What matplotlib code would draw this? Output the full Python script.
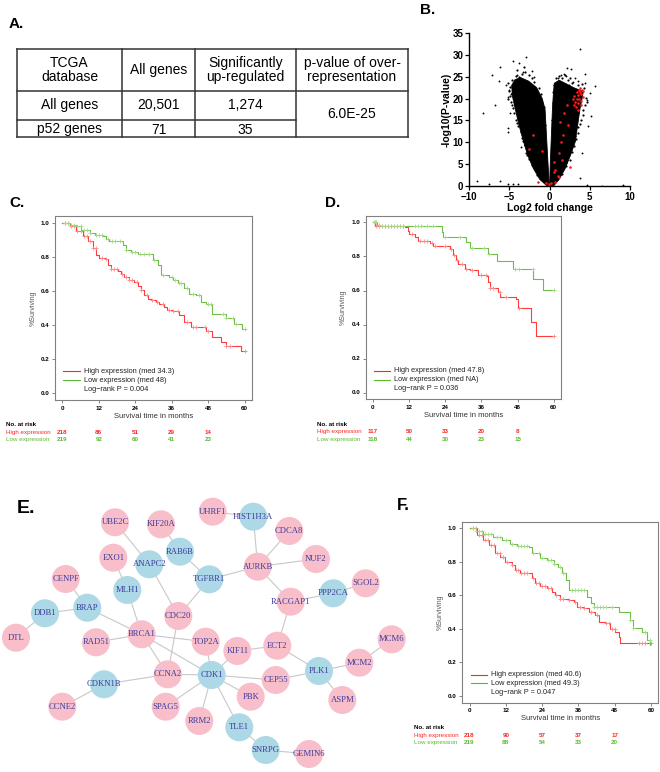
import numpy as np
import matplotlib
matplotlib.use('Agg')
import matplotlib.pyplot as plt
from matplotlib.patches import Circle, Polygon
from matplotlib import transforms as mtrans

plt.rcParams['font.family'] = ['Liberation Sans', 'DejaVu Sans']

W, H = 660, 772

# ---------------- Panel A: table ----------------
table_header = ["TCGA\ndatabase", "All genes", "Significantly\nup-regulated", "p-value of over-\nrepresentation"]
table_row1 = ["All genes", "20,501", "1,274"]
table_row2 = ["p52 genes", "71", "35"]
table_pvalue = "6.0E-25"

# ---------------- Panel B: volcano ----------------
volc_left_x = [-0.3, -1.2, -2.0, -2.7, -3.2, -3.8, -4.3, -4.6, -4.7, -4.3, -3.6, -2.6, -1.6, -0.9, -0.55, -0.33, -0.15, -0.05]
volc_left_y = [0, 1.5, 4, 7, 10, 14, 18, 20.5, 23, 24.3, 24.8, 24.0, 22.5, 20, 17.5, 10, 4, 0]
volc_right_x = [0.0, 0.08, 0.2, 0.37, 0.5, 0.6, 1.2, 1.95, 3.0, 4.2, 4.0, 3.8, 3.2, 2.6, 1.95, 1.2, 0.5]
volc_right_y = [0, 4, 10, 17.8, 21.6, 23.5, 24.2, 23.5, 22.5, 21.6, 19.5, 17.8, 10.1, 7, 4, 1.5, 0]
volc_out_x = [3.73, -2.9, -4.55, -3.85, -6.1, -7.1, -6.3, -5.4, -5.1, -4.9, -6.8, -8.3, -5.2, -5.1, -3.6,
              2.15, 2.7, 1.8, 4.35, 3.2, 5.6, 4.97, 4.64, 5.2, 4.76, 4.0, 3.8, -9.0, -7.5, -6.2, -5.1,
              -4.5, -3.9, 4.6, 6.5, 9.1, -3.3, -4.0, -5.0, -2.2, -1.9, 1.0, 1.4, 2.4, 2.9, 3.5, 4.4, -4.8, -3.5, 2.0]
volc_out_y = [31.3, 29.4, 28.6, 28.1, 27.3, 25.4, 24, 23, 20.4, 16.6, 18.5, 16.8, 13.2, 12.3, 9,
              26.9, 26.7, 25.6, 25.6, 24.6, 22.9, 21.2, 19.7, 16.1, 13.7, 7.5, 1.75, 1.1, 0.45, 1.1, 0.4,
              0.45, 0.4, 0.2, 0.1, 0.2, 26.0, 25.5, 22.0, 26.2, 25.0, 24.8, 25.5, 23.2, 23.8, 24.0, 23.5, 21.0, 19.5, 25.1]
volc_edge_x = [-1.5, -2.2, -2.5, -2.9, -3.1, -3.4, -3.6, -3.9, -4.1, -4.4, -4.5, -4.8, -4.9, -5.0, -4.9, -5.1,
               -4.6, -4.2, -3.8, -3.4, -3.0, -2.6, -2.2, -1.9, -3.2, -4.0, -2.8, -3.3, -4.0, -4.6, -5.2, -4.7,
               1.6, 2.1, 2.5, 2.8, 3.0, 3.3, 3.5, 3.6, 3.9, 4.1, 4.2, 4.4, 4.5, 4.3, 4.0, 3.5, 2.8, 2.3,
               1.6, 1.2, 0.8, 0.5, 2.0, 3.2, 3.8, 4.6, 1.9, 2.6,
               -0.5, -0.7, -1.0, -1.3, 0.3, 0.4, 0.45]
volc_edge_y = [2.5, 4.8, 6.2, 7.5, 9.3, 11, 12.4, 13.8, 15.2, 16.8, 17.9, 19.2, 20.5, 21.8, 22.6, 23.5,
               24.2, 25.2, 24.9, 25.6, 26.1, 25.3, 24.6, 23.9, 27.2, 26.5, 7.0, 10.2, 14.5, 18.5, 19.8, 21.2,
               2.8, 4.5, 6.0, 7.8, 9.2, 10.8, 12.1, 13.5, 15.0, 16.2, 17.5, 18.6, 20.2, 22.5, 23.3, 23.0, 23.6, 24.2,
               24.8, 25.2, 24.6, 23.0, 5.5, 11.5, 14.2, 19.3, 25.3, 24.8,
               14, 18, 21, 22.5, 15, 19, 21.5]
volc_red_x = [3.0, 3.2, 3.4, 3.6, 3.8, 4.0, 3.9, 3.7, 3.5, 3.3, 3.9, 4.1, 3.6, 3.1, 2.9, 3.8, 4.2, 3.4, 3.7, 3.95,
              -2.07, -2.6, -0.87, -1.45, -0.4, -0.1, 0.2, 0.5, 0.7, 0.62, 1.24, 1.53, 1.45, 1.66, 1.33, 1.74,
              2.36, 2.15, 1.24, 2.57, 0.7, 1.03]
volc_red_y = [18.5, 19.3, 20.0, 20.8, 21.5, 22.0, 21.0, 19.8, 18.9, 18.0, 18.5, 20.3, 17.5, 20.5, 19.8, 22.4, 21.7, 21.5, 21.9, 19.5,
              11.7, 8.5, 8.0, 1.0, 0.8, 0.4, 0.6, 3.3, 3.7, 5.4, 7.5, 6.0, 10.1, 11.7, 14.7, 16.6,
              14.0, 18.5, 2.1, 4.4, 1.0, 2.4]

# ---------------- Panels C, D, F: Kaplan-Meier ----------------
km_ticks_x = [0, 12, 24, 36, 48, 60]
km_ticks_y = [0.0, 0.2, 0.4, 0.6, 0.8, 1.0]
risk_times = [0, 12, 24, 36, 48]

C_hi_t = [0, 2.4, 4.6, 6.8, 8.4, 10, 11.1, 12.2, 14.2, 15, 16, 18.3, 19.3, 20.4, 22, 23.7, 24.8, 25.9, 27, 28.1, 29.2, 30.8, 31.9, 33.6, 34.6, 36.3, 38.5, 40.1, 42.3, 47.4, 49.1, 52.1, 53.8, 58.7, 60.3]
C_hi_s = [1.0, 0.982, 0.951, 0.925, 0.892, 0.852, 0.813, 0.793, 0.787, 0.754, 0.730, 0.720, 0.700, 0.681, 0.665, 0.650, 0.630, 0.606, 0.577, 0.553, 0.547, 0.537, 0.522, 0.504, 0.488, 0.482, 0.459, 0.419, 0.386, 0.366, 0.331, 0.301, 0.276, 0.245, 0.245]
C_hi_c = [1, 2, 3, 4, 5, 6, 7, 8, 9, 10, 11, 13, 14.5, 16, 17, 18, 19.5, 21, 22, 23, 24.5, 26, 28, 29.5, 31, 33, 35, 36.5, 38, 41, 43, 44, 47, 48, 54, 55, 60]
C_lo_t = [0, 2.5, 4.6, 6.2, 9, 10.6, 13.3, 14.4, 15.5, 19.9, 21, 22.6, 24.8, 29.7, 31.4, 32.5, 35.2, 36.3, 37.9, 40.1, 41.7, 43.9, 45.6, 47.2, 49.4, 53.8, 56.6, 59.2, 60.3]
C_lo_s = [1.0, 0.99, 0.98, 0.957, 0.941, 0.927, 0.921, 0.906, 0.892, 0.872, 0.843, 0.827, 0.819, 0.783, 0.754, 0.695, 0.681, 0.665, 0.646, 0.616, 0.583, 0.577, 0.537, 0.522, 0.465, 0.439, 0.406, 0.374, 0.374]
C_lo_c = [1, 2, 3, 4, 5, 6, 7, 8, 9, 11, 12, 13, 15, 16.5, 17.5, 19, 21, 23, 24, 25.5, 27, 28.5, 30, 33, 36, 37, 38.5, 39, 41, 43, 45, 48, 49, 53, 54, 56, 57, 60]
C_risk_hi = [218, 86, 51, 29, 14]
C_risk_lo = [219, 92, 60, 41, 23]
C_legend = ["High expression (med 34.3)", "Low expression (med 48)", "Log\u2212rank P = 0.004"]

D_hi_t = [0, 0.8, 10.7, 11.5, 12, 14, 15, 19, 20, 25.5, 26.4, 27.5, 28.3, 30.5, 32.1, 34.9, 37.7, 38.2, 39, 41.5, 42.3, 47.6, 48.1, 52.5, 54.2, 60]
D_hi_s = [1.0, 0.98, 0.974, 0.951, 0.935, 0.915, 0.891, 0.879, 0.862, 0.842, 0.806, 0.777, 0.753, 0.727, 0.721, 0.692, 0.684, 0.648, 0.613, 0.589, 0.559, 0.549, 0.50, 0.415, 0.332, 0.332]
D_hi_c = [0.5, 1, 2, 3, 4, 5, 6, 7, 8, 9, 10, 13, 15.5, 17, 18, 19.5, 20.5, 24, 26, 27, 28, 29.5, 31, 33, 36, 37.5, 39, 40, 42, 44, 48.5, 60]
D_lo_t = [0, 1.3, 2.4, 21.1, 22.8, 23.3, 31, 32.1, 38.2, 41, 46.5, 53.1, 56.4, 60]
D_lo_s = [1.0, 0.988, 0.978, 0.978, 0.945, 0.915, 0.885, 0.850, 0.816, 0.771, 0.727, 0.668, 0.603, 0.603]
D_lo_c = [0.3, 0.7, 1, 2, 3, 4, 5, 6, 7, 8, 9, 10, 14, 15, 16, 18, 20, 24, 29, 33, 37, 38.5, 47, 48.5, 53, 60]
D_risk_hi = [117, 50, 33, 20, 8]
D_risk_lo = [118, 44, 30, 23, 15]
D_legend = ["High expression (med 47.8)", "Low expression (med NA)", "Log\u2212rank P = 0.036"]

F_hi_t = [0, 2.4, 4.6, 6.3, 8.5, 10.1, 11.8, 14, 15.1, 16.8, 19, 20.6, 21.7, 23.4, 25.6, 27.2, 28.4, 30, 32.8, 34.4, 35.5, 37.7, 39.4, 41.6, 42.7, 44.9, 46.5, 48.2, 49.3, 49.6, 60]
F_hi_s = [1.0, 0.96, 0.93, 0.90, 0.851, 0.831, 0.801, 0.781, 0.751, 0.736, 0.732, 0.702, 0.672, 0.656, 0.642, 0.622, 0.602, 0.577, 0.573, 0.563, 0.529, 0.523, 0.503, 0.483, 0.443, 0.433, 0.400, 0.384, 0.354, 0.314, 0.314]
F_hi_c = [1, 2, 3, 4, 5, 6, 7, 8, 9, 10, 11, 12.5, 14, 15.5, 16, 17, 18, 19, 21, 22, 23, 24, 25, 26, 27, 28.5, 30, 31, 33, 35, 36.5, 38, 40, 42, 45, 46, 47, 48, 56, 57, 58, 60]
F_lo_t = [0, 2.0, 4.6, 7.9, 10.7, 13.5, 15.7, 19.5, 20.6, 23.4, 25.6, 27.8, 29.4, 30.5, 32, 32.8, 38.9, 40, 41, 49.3, 52.9, 54, 57, 58.7, 59.8]
F_lo_s = [1.0, 0.985, 0.966, 0.95, 0.93, 0.907, 0.895, 0.887, 0.851, 0.821, 0.811, 0.787, 0.771, 0.732, 0.692, 0.632, 0.592, 0.553, 0.529, 0.503, 0.453, 0.404, 0.384, 0.334, 0.304]
F_lo_c = [1, 2, 3, 4, 5, 6, 7, 9, 10, 12, 14, 16, 17, 18, 19, 21, 23, 24, 26, 27, 28, 30, 31, 34, 35, 36, 37, 38, 41, 42, 43, 44, 45, 47, 53, 54, 58, 59.5]
F_risk_hi = [218, 90, 57, 37, 17]
F_risk_lo = [219, 88, 54, 33, 20]
F_legend = ["High expression (med 40.6)", "Low expression (med 49.3)", "Log\u2212rank P = 0.047"]

# ---------------- Panel E: network ----------------
node_names = ["UHRF1", "HIST1H3A", "UBE2C", "KIF20A", "CDCA8", "RAB6B", "EXO1", "ANAPC2", "AURKB", "NUF2",
              "TGFBR1", "CENPF", "SGOL2", "MLH1", "PPP2CA", "BRAP", "RACGAP1", "DDB1", "CDC20", "DTL",
              "RAD51", "BRCA1", "TOP2A", "ECT2", "MCM6", "KIF11", "CCNA2", "CDK1", "MCM2", "PLK1",
              "CEP55", "CDKN1B", "PBK", "ASPM", "CCNE2", "SPAG5", "RRM2", "TLE1", "SNRPG", "GEMIN6"]
node_x = [212.7, 253.3, 115, 161, 289.3, 180, 113.3, 149.3, 257.7, 316,
          209.3, 65.7, 365.7, 127.3, 333.3, 87.3, 290.7, 45, 178.3, 16,
          96, 141.7, 205.7, 277.3, 391.7, 237.3, 167.7, 211.7, 359.3, 319,
          275.7, 104, 250.7, 342.3, 62.3, 165.7, 199.3, 239.3, 265.7, 309]
node_y = [511.7, 516.7, 522.3, 524.3, 531, 551.7, 557.7, 564.3, 566.7, 559,
          579.3, 579, 583.3, 590, 593.3, 607.7, 601.7, 613.3, 616, 637.7,
          642.3, 634.3, 641.7, 645.7, 639.3, 651, 674.3, 675, 662.7, 671,
          680, 684.3, 696.7, 700, 706.7, 706.7, 721, 727.3, 750, 754]
blue_nodes = ["HIST1H3A", "RAB6B", "ANAPC2", "TGFBR1", "MLH1", "PPP2CA", "BRAP", "DDB1", "CDK1", "PLK1",
              "CDKN1B", "TLE1", "SNRPG"]
edges = [("UHRF1", "HIST1H3A"), ("HIST1H3A", "AURKB"), ("CDCA8", "AURKB"), ("NUF2", "AURKB"),
         ("AURKB", "TGFBR1"), ("AURKB", "RACGAP1"), ("RACGAP1", "ECT2"), ("PPP2CA", "SGOL2"),
         ("PPP2CA", "RACGAP1"), ("KIF20A", "RAB6B"), ("RAB6B", "TGFBR1"), ("TGFBR1", "CDC20"),
         ("UBE2C", "ANAPC2"), ("ANAPC2", "CDC20"), ("EXO1", "MLH1"), ("MLH1", "BRCA1"),
         ("CENPF", "BRAP"), ("BRAP", "DDB1"), ("DDB1", "DTL"), ("BRAP", "BRCA1"), ("RAD51", "BRCA1"),
         ("BRCA1", "TOP2A"), ("BRCA1", "CCNA2"), ("BRCA1", "CDK1"), ("CDC20", "CCNA2"),
         ("TOP2A", "CDK1"), ("KIF11", "CDK1"), ("KIF11", "ECT2"), ("ECT2", "PLK1"), ("CDK1", "CCNA2"),
         ("CDK1", "CEP55"), ("CEP55", "PLK1"), ("PLK1", "MCM2"), ("MCM2", "MCM6"), ("PLK1", "ASPM"),
         ("CDK1", "PBK"), ("CDK1", "SPAG5"), ("CDK1", "RRM2"), ("CDK1", "TLE1"), ("TLE1", "SNRPG"),
         ("SNRPG", "GEMIN6"), ("CCNA2", "CDKN1B"), ("CDKN1B", "CCNE2")]

RED = '#FF2525'
RED_L = '#FF8C8C'
GREEN = '#5CB82E'
GREEN_L = '#A6D98A'


def rect(l, t, r, b):
    return [l / W, 1 - b / H, (r - l) / W, (b - t) / H]


fig = plt.figure(figsize=(W / 100, H / 100), dpi=100)

# overlay axes in pixel coordinates (table + network + letters)
ov = fig.add_axes([0, 0, 1, 1])
ov.set_xlim(0, W)
ov.set_ylim(H, 0)
ov.axis('off')

# panel letters
for lab, x, y, fs in [("A.", 9, 27.5, 11), ("B.", 420, 13.5, 11), ("C.", 9, 207, 11), ("D.", 325, 207, 11),
                      ("E.", 17, 513, 14), ("F.", 397, 510, 12)]:
    ov.text(x, y, lab, fontsize=fs, fontweight='bold', ha='left', va='baseline')

# ---- table ----
col_edges = [17, 122, 195, 296, 408]
row_edges = [49, 91, 120, 137]
lc = '#333333'
tlw = 1.1
ov.plot([col_edges[0], col_edges[-1]], [row_edges[0]] * 2, color=lc, lw=tlw)
ov.plot([col_edges[0], col_edges[-1]], [row_edges[1]] * 2, color=lc, lw=tlw)
ov.plot([col_edges[0], col_edges[3]], [row_edges[2]] * 2, color=lc, lw=tlw)
ov.plot([col_edges[0], col_edges[-1]], [row_edges[3]] * 2, color=lc, lw=tlw)
for cx in col_edges:
    ov.plot([cx, cx], [row_edges[0], row_edges[-1]], color=lc, lw=tlw)
ccent = [(col_edges[i] + col_edges[i + 1]) / 2 for i in range(4)]
for i, txt in enumerate(table_header):
    ov.text(ccent[i], 70, txt, ha='center', va='center', fontsize=10, linespacing=1.05)
for i, txt in enumerate(table_row1):
    ov.text(ccent[i], 105, txt, ha='center', va='center', fontsize=10)
for i, txt in enumerate(table_row2):
    ov.text(ccent[i], 129.5, txt, ha='center', va='center', fontsize=10)
ov.text(ccent[3], 113.5, table_pvalue, ha='center', va='center', fontsize=10)

# ---- network ----
pos = {n: (x, y) for n, x, y in zip(node_names, node_x, node_y)}
for a, b in edges:
    ov.plot([pos[a][0], pos[b][0]], [pos[a][1], pos[b][1]], color='#C8C8C8', lw=0.8, zorder=1)
for n in node_names:
    col = '#ADD8E6' if n in blue_nodes else '#F8BFCB'
    ov.add_patch(Circle(pos[n], 14, facecolor=col, edgecolor='none', zorder=2))
    ov.text(pos[n][0], pos[n][1], n, ha='center', va='center', fontsize=6.2, color='#3C3C9C',
            family=['Liberation Serif', 'DejaVu Serif'], zorder=3)

# ---- volcano ----
axv = fig.add_axes(rect(469, 33, 630, 186))
axv.add_patch(Polygon(np.column_stack([volc_left_x, volc_left_y]), closed=True, facecolor='black',
                      edgecolor='black', lw=0.6))
axv.add_patch(Polygon(np.column_stack([volc_right_x, volc_right_y]), closed=True, facecolor='black',
                      edgecolor='black', lw=0.6))
axv.scatter(volc_edge_x, volc_edge_y, s=2.5, color='black', lw=0)
axv.scatter(volc_out_x, volc_out_y, s=1.8, color='black', lw=0)
axv.scatter(volc_red_x, volc_red_y, s=3.5, color='#FF1A1A', lw=0, zorder=3)
axv.set_xlim(-10, 10)
axv.set_ylim(0, 35)
axv.set_xticks([-10, -5, 0, 5, 10])
axv.set_yticks(range(0, 36, 5))
axv.spines['top'].set_visible(False)
axv.spines['right'].set_visible(False)
for s in ['left', 'bottom']:
    axv.spines[s].set_linewidth(1.0)
axv.tick_params(labelsize=7, length=3, width=0.9, pad=1)
for lbl in axv.get_xticklabels() + axv.get_yticklabels():
    lbl.set_fontweight('bold')
axv.set_xlabel("Log2 fold change", fontsize=7.5, fontweight='bold', labelpad=1)
axv.set_ylabel("-log10(P-value)", fontsize=7.5, fontweight='bold', labelpad=1)


def step_val(t, s, c):
    idx = np.searchsorted(np.asarray(t), np.asarray(c), side='right') - 1
    return np.asarray(s)[idx]


def km_panel(box, hi_t, hi_s, hi_c, lo_t, lo_s, lo_c, legend, risk_hi, risk_lo):
    ax = fig.add_axes(rect(*box))
    ax.step(hi_t, hi_s, where='post', color=RED, lw=0.8, alpha=0.9)
    ax.step(lo_t, lo_s, where='post', color=GREEN, lw=0.8, alpha=0.9)
    ax.plot(hi_c, step_val(hi_t, hi_s, hi_c), '+', color=RED_L, ms=3.5, mew=0.6)
    ax.plot(lo_c, step_val(lo_t, lo_s, lo_c), '+', color=GREEN_L, ms=3.5, mew=0.6)
    ax.set_xlim(-2.4, 62.4)
    ax.set_ylim(-0.04, 1.04)
    ax.set_xticks(km_ticks_x)
    ax.set_yticks(km_ticks_y)
    ax.set_yticklabels(["%.1f" % v for v in km_ticks_y])
    for s in ax.spines.values():
        s.set_color('#808080')
        s.set_linewidth(0.8)
    ax.tick_params(labelsize=4.5, length=2.5, width=0.5, pad=1.5, color='#555555')
    for lbl in ax.get_xticklabels() + ax.get_yticklabels():
        lbl.set_fontweight('bold')
    ax.set_xlabel("Survival time in months", fontsize=5.5, labelpad=1.5, color='#333333')
    ax.set_ylabel("%Surviving", fontsize=5, labelpad=3, color='#555555')
    # legend
    ys = [0.155, 0.107, 0.058]
    ax.plot([0.042, 0.125], [ys[0]] * 2, color=RED, lw=0.8, transform=ax.transAxes)
    ax.plot([0.042, 0.125], [ys[1]] * 2, color=GREEN, lw=0.8, transform=ax.transAxes)
    for y, txt in zip(ys, legend):
        ax.text(0.145, y, txt, fontsize=5.3, va='center', ha='left', transform=ax.transAxes, color='#222222')
    # risk table
    tr_lab = [mtrans.offset_copy(ax.transAxes, fig=fig, x=-48.5, y=-d, units='dots') for d in (25, 32.5, 40)]
    tr_num = [mtrans.offset_copy(ax.get_xaxis_transform(), fig=fig, x=0, y=-d, units='dots') for d in (32.5, 40)]
    ax.text(0, 0, "No. at risk", transform=tr_lab[0], fontsize=4.5, fontweight='bold', va='center', ha='left')
    ax.text(0, 0, "High expression", transform=tr_lab[1], fontsize=4.5, color=RED, va='center', ha='left')
    ax.text(0, 0, "Low expression", transform=tr_lab[2], fontsize=4.5, color=GREEN, va='center', ha='left')
    for t, n in zip(risk_times, risk_hi):
        ax.text(t, 0, str(n), transform=tr_num[0], fontsize=4.5, color=RED, fontweight='bold', va='center', ha='center')
    for t, n in zip(risk_times, risk_lo):
        ax.text(t, 0, str(n), transform=tr_num[1], fontsize=4.5, color=GREEN, fontweight='bold', va='center', ha='center')
    return ax


km_panel((55, 216, 252, 400), C_hi_t, C_hi_s, C_hi_c, C_lo_t, C_lo_s, C_lo_c, C_legend, C_risk_hi, C_risk_lo)
km_panel((365.7, 215.7, 561, 399.3), D_hi_t, D_hi_s, D_hi_c, D_lo_t, D_lo_s, D_lo_c, D_legend, D_risk_hi, D_risk_lo)
km_panel((462.3, 521.7, 658.3, 702.7), F_hi_t, F_hi_s, F_hi_c, F_lo_t, F_lo_s, F_lo_c, F_legend, F_risk_hi, F_risk_lo)

fig.savefig("out.png", dpi=100)
